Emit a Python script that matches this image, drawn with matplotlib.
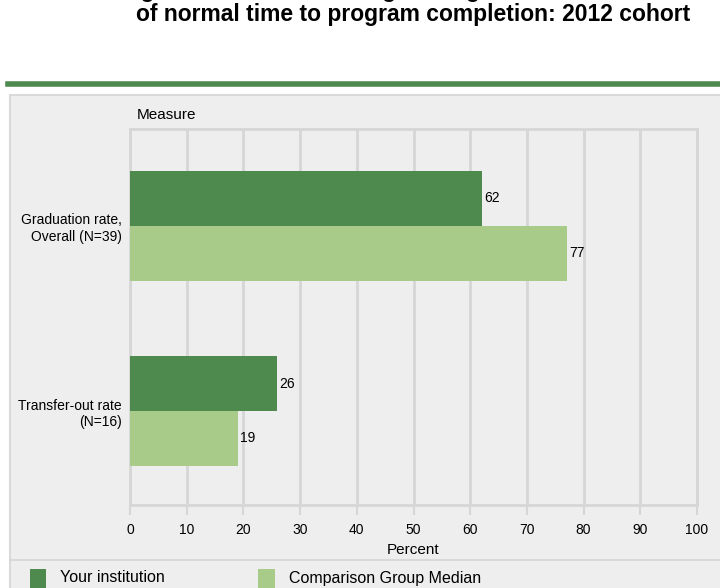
import matplotlib
matplotlib.use("Agg")
import matplotlib.pyplot as plt
from matplotlib.patches import Rectangle
from matplotlib.lines import Line2D

measures = ["Graduation rate,\nOverall (N=39)", "Transfer-out rate\n(N=16)"]
your_inst = [62, 26]
comparison = [77, 19]
x_ticks = [0, 10, 20, 30, 40, 50, 60, 70, 80, 90, 100]
series_names = ["Your institution", "Comparison Group Median"]

dark = "#4e8a4e"
light = "#a9cb8a"
panel = "#eeeeee"
grid = "#d6d6d6"

plt.rcParams["font.family"] = ["Liberation Sans", "DejaVu Sans"]

fig = plt.figure(figsize=(7.2, 5.88), dpi=100)
W, H = 720, 588

# grey panel and green rule
fig.patches.append(Rectangle((10 / W, -0.05), 1.0, (H - 95) / H + 0.05,
                             transform=fig.transFigure, facecolor=panel,
                             edgecolor="#d9d9d9", linewidth=1.5, zorder=-2))
fig.lines.append(Line2D([8 / W, 1], [1 - 84 / H, 1 - 84 / H], transform=fig.transFigure,
                        color=dark, linewidth=4))
fig.lines.append(Line2D([10 / W, 1], [1 - 560 / H, 1 - 560 / H], transform=fig.transFigure,
                        color="#d9d9d9", linewidth=1.5, zorder=-1))

# the first title line sits mostly above the top edge, as in the source image
fig.text(413 / W, 1 + 3 / H, "degree/certificate-seeking undergraduates within 150%",
         ha="center", va="baseline", fontsize=16.5, fontweight="bold")
fig.text(413 / W, 1 - 21 / H, "of normal time to program completion: 2012 cohort",
         ha="center", va="baseline", fontsize=16.5, fontweight="bold")

ax = fig.add_axes([130 / W, 83 / H, 567 / W, 376 / H])
ax.set_facecolor(panel)

ypos = [1, 0]
h = 0.297
ax.barh([y + h / 2 for y in ypos], your_inst, height=h, color=dark, zorder=3)
ax.barh([y - h / 2 for y in ypos], comparison, height=h, color=light, zorder=3)
for y, a, b in zip(ypos, your_inst, comparison):
    ax.text(a + 0.4, y + h / 2, str(a), va="center", ha="left", fontsize=10, zorder=4)
    ax.text(b + 0.4, y - h / 2, str(b), va="center", ha="left", fontsize=10, zorder=4)

ax.set_xlim(0, 100)
ax.set_ylim(-0.508, 1.524)
ax.set_xticks(x_ticks)
ax.set_yticks(ypos)
ax.set_yticklabels(measures, ha="right", fontsize=10)
ax.tick_params(axis="y", length=0, pad=6)
ax.tick_params(axis="x", length=7, color=grid, width=1.5, labelsize=10, pad=6)
ax.grid(axis="x", color=grid, linewidth=2, zorder=1)
for s in ["top", "right", "left", "bottom"]:
    ax.spines[s].set_color(grid)
    ax.spines[s].set_linewidth(2)
ax.set_xlabel("Percent", fontsize=11, labelpad=4)
ax.text(7 / 567, 1 + 7 / 376, "Measure", transform=ax.transAxes, ha="left",
        va="bottom", fontsize=11)

# legend
fig.patches.append(Rectangle((30 / W, 0), 16 / W, 19 / H, transform=fig.transFigure,
                             facecolor=dark, edgecolor="none"))
fig.patches.append(Rectangle((258 / W, 0), 17 / W, 19 / H, transform=fig.transFigure,
                             facecolor=light, edgecolor="none"))
fig.text(60 / W, 1 - 578 / H, series_names[0], va="center", fontsize=11.5)
fig.text(289 / W, 1 - 578 / H, series_names[1], va="center", fontsize=11.5)

fig.savefig("out.png", dpi=100)
